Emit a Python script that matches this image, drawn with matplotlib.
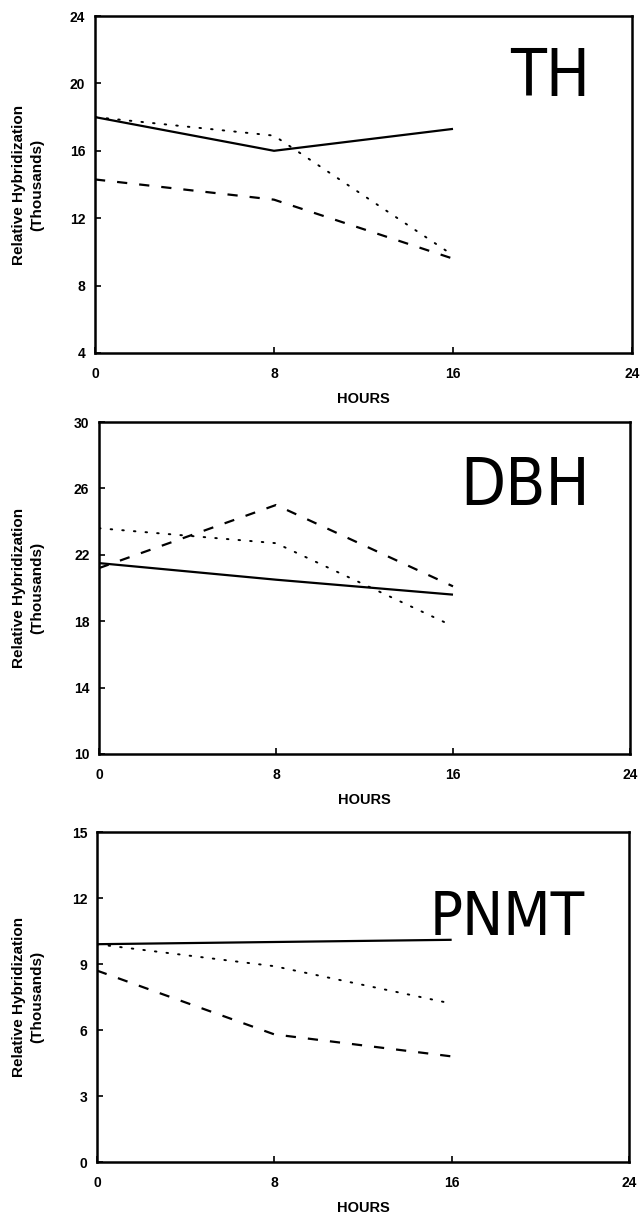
import matplotlib
matplotlib.use('Agg')
import matplotlib.pyplot as plt
from matplotlib import font_manager

# time points (hours)
hours = [0, 8, 16]

# TH panel (thousands)
th_solid = [18.0, 16.0, 17.3]
th_dotted = [18.0, 16.9, 9.8]
th_dashed = [14.3, 13.1, 9.6]

# DBH panel
dbh_solid = [21.5, 20.5, 19.6]
dbh_dotted = [23.6, 22.7, 17.7]
dbh_dashed = [21.2, 25.0, 20.1]

# PNMT panel
pnmt_solid = [9.9, 10.0, 10.1]
pnmt_dotted = [9.9, 8.9, 7.2]
pnmt_dashed = [8.7, 5.8, 4.8]

x_ticks = [0, 8, 16, 24]
th_yticks = [4, 8, 12, 16, 20, 24]
dbh_yticks = [10, 14, 18, 22, 26, 30]
pnmt_yticks = [0, 3, 6, 9, 12, 15]

W, H = 641, 1216
TICK_FONT = ['Liberation Sans', 'DejaVu Sans']

# narrow face for the big gene labels, if one is around
names = {f.name for f in font_manager.fontManager.ttflist}
condensed = [f for f in font_manager.fontManager.ttflist
             if f.name == 'DejaVu Sans' and f.stretch in ('condensed', 'semi-condensed')]
if 'Liberation Sans Narrow' in names:
    BIG_FONT, BIG_STRETCH = ['Liberation Sans Narrow'], 'normal'
elif condensed:
    BIG_FONT, BIG_STRETCH = ['DejaVu Sans'], 'condensed'
else:
    BIG_FONT, BIG_STRETCH = ['Liberation Sans'], 'normal'

fig = plt.figure(figsize=(W / 100, H / 100), dpi=100)


def px_axes(left, right, top, bottom):
    return fig.add_axes([left / W, 1 - bottom / H, (right - left) / W, (bottom - top) / H])


def draw_panel(ax, solid, dotted, dashed, yticks, name, name_x, name_y, name_size):
    ax.plot(hours, solid, color='black', lw=1.6, solid_capstyle='butt')
    ax.plot(hours, dotted, color='black', lw=1.4, linestyle=(0, (0.8, 5.2)),
            dash_capstyle='round')
    ax.plot(hours, dashed, color='black', lw=1.6, linestyle=(0, (4.6, 5.4)))
    ax.set_xlim(0, 24)
    ax.set_ylim(yticks[0], yticks[-1])
    ax.set_xticks(x_ticks)
    ax.set_yticks(yticks)
    ax.tick_params(direction='in', length=4, width=1.2, labelsize=10)
    ax.tick_params(axis='x', pad=10)
    ax.tick_params(axis='y', pad=7)
    for lab in ax.get_xticklabels() + ax.get_yticklabels():
        lab.set_fontfamily(TICK_FONT)
        lab.set_fontweight('bold')
    for sp in ax.spines.values():
        sp.set_linewidth(1.8)
    ax.set_xlabel('HOURS', fontsize=10.5, fontweight='bold', family=TICK_FONT, labelpad=8)
    ax.text(name_x / W, 1 - name_y / H, name, transform=fig.transFigure,
            ha='right', va='baseline', fontsize=name_size, family=BIG_FONT,
            fontstretch=BIG_STRETCH)


def ylabel(top, bottom):
    yc = 1 - (top + bottom) / 2 / H
    fig.text(28 / W, yc, 'Relative Hybridization\n(Thousands)', rotation=90,
             ha='center', va='center', multialignment='center',
             fontsize=11, fontweight='bold', family=TICK_FONT, linespacing=1.35)


ax1 = px_axes(95, 632, 16, 353)
draw_panel(ax1, th_solid, th_dotted, th_dashed, th_yticks, 'TH', 590, 96, 47)
ylabel(16, 353)

ax2 = px_axes(99, 630, 422, 754)
draw_panel(ax2, dbh_solid, dbh_dotted, dbh_dashed, dbh_yticks, 'DBH', 590, 505, 47)
ylabel(422, 754)

ax3 = px_axes(97, 629, 832, 1162)
draw_panel(ax3, pnmt_solid, pnmt_dotted, pnmt_dashed, pnmt_yticks, 'PNMT', 585, 935, 44)
ylabel(832, 1162)

fig.savefig('out.png', dpi=100)
